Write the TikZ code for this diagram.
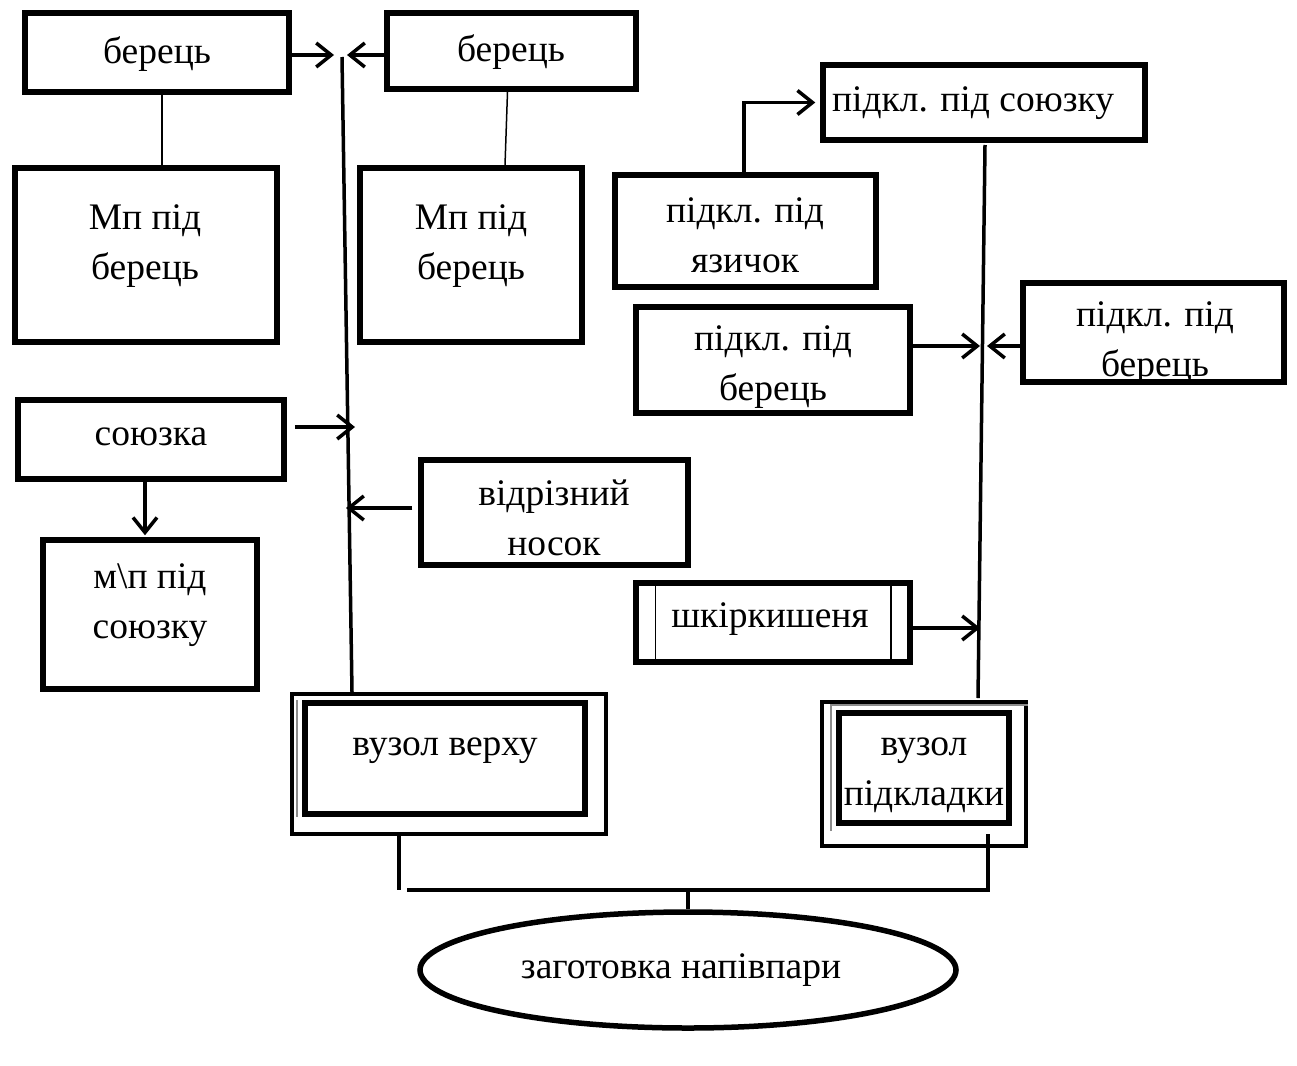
\documentclass[tikz,border=0pt]{standalone}
\usepackage{fontspec}
\setmainfont{Liberation Serif}
\usetikzlibrary{arrows.meta,shapes.geometric}
\begin{document}
\begin{tikzpicture}[x=1pt,y=-1pt,
  box/.style={draw, line width=5.5pt, inner sep=0pt},
  txt/.style={align=center, font=\fontsize{37.5}{50}\selectfont, inner sep=0pt},
  conn/.style={line width=3.5pt},
  arr/.style={line width=3.5pt, -{Straight Barb[length=15pt,width=24pt]}},
  thinline/.style={line width=1.5pt},
  shadow/.style={line width=1.2pt, black!45}]
\useasboundingbox[fill=white] (0,0) rectangle (1297,1065);

% boxes
\node[box, minimum width=264, minimum height=79] (b1) at (157,52.5) {};
\node[box, minimum width=249, minimum height=76] (b2) at (511.5,51) {};
\node[box, minimum width=262, minimum height=174] (m1) at (146,255) {};
\node[box, minimum width=222, minimum height=174] (m2) at (471,255) {};
\node[box, minimum width=266, minimum height=79] (s) at (151,439.5) {};
\node[box, minimum width=214, minimum height=149] (ms) at (150,614.5) {};
\node[box, minimum width=267, minimum height=105] (vn) at (554.5,512.5) {};
\node[box, line width=4.5pt, minimum width=314, minimum height=140] (vvo) at (449,764) {};
\node[box, line width=6pt, minimum width=280, minimum height=111] (vvi) at (445,758.5) {};
\draw[shadow] ([xshift=-5pt]vvi.north west) -- ([xshift=-5pt]vvi.south west);
\node[box, line width=4.5pt, minimum width=204, minimum height=144] (vpo) at (924,774) {};
\node[box, line width=6pt, minimum width=170, minimum height=110] (vpi) at (924,768) {};
\draw[shadow] ([xshift=-5pt,yshift=-5pt]vpi.south west) -- ([xshift=-5pt,yshift=5pt]vpi.north west) -- ([yshift=5pt]vpo.north east |- vpi.north);
\node[box, minimum width=322, minimum height=75] (ps) at (984,102.5) {};
\node[box, minimum width=261, minimum height=112] (pya) at (745.5,231) {};
\node[box, minimum width=274, minimum height=106] (pb1) at (773,360) {};
\node[box, minimum width=261, minimum height=99] (pb2) at (1153.5,332.5) {};
\node[box, minimum width=274, minimum height=79] (sk) at (773,622.5) {};
\draw[thinline] ([xshift=22pt]sk.north west) -- ([xshift=22pt]sk.south west);
\draw[thinline] ([xshift=-22pt]sk.north east) -- ([xshift=-22pt]sk.south east);
\node[draw, ellipse, line width=5.5pt, minimum width=536, minimum height=116, inner sep=0pt] (ell) at (688,970) {};

% texts
\node[txt] (tb1) at (157,54) {берець};
\node[txt] (tb2) at (511,52) {берець};
\node[txt] (tm1) at (145,246) {Мп під\\берець};
\node[txt] (tm2) at (471,246) {Мп під\\берець};
\node[txt] (ts) at (151,437) {союзка};
\node[txt] (tms) at (150,605) {м\textbackslash п під\\союзку};
\node[txt] (tvn) at (554,518) {відрізний\\носок};
\node[txt] (tvv) at (445,751) {вузол верху};
\node[txt] (tvp) at (924,775) {вузол\\підкладки};
\node[txt] (tps) at (973,103) {підкл. під союзку};
\node[txt] (tpya) at (745,235) {підкл. під\\язичок};
\node[txt] (tpb1) at (773,367) {підкл. під\\берець};
\begin{scope}
\clip (pb2.south west) rectangle (pb2.north east);
\node[txt] (tpb2) at (1155,343) {підкл. під\\берець};
\end{scope}
\node[txt] (tsk) at (770,619) {шкіркишеня};
\node[txt] (tell) at (681,970) {заготовка напівпари};

% spines
\coordinate (spL1) at (342,57);
\coordinate (spL2) at (352,692);
\draw[conn] (spL1) -- (spL2);
\coordinate (spR1) at (985,145);
\coordinate (spR2) at (978,698);
\draw[conn] (spR1) -- (spR2);

% left arrows
\coordinate (tipA) at (334,55);
\coordinate (tipB) at (347,55);
\draw[arr] ([yshift=-2.5pt]b1.east) -- (tipA);
\draw[arr] ([yshift=-4pt]b2.west) -- (tipB);
\draw[thinline] ([xshift=5pt]b1.south) -- ([xshift=5pt]b1.south |- m1.north);
\draw[thinline] ([xshift=-4pt]b2.south) -- ([xshift=34pt]m2.north);
\coordinate (tipC) at (355,427);
\draw[arr] ([xshift=8pt,yshift=12.5pt]s.east) -- (tipC);
\draw[arr] ([xshift=-6pt]s.south) -- ([xshift=-5pt,yshift=2pt]ms.north);
\coordinate (tipD) at (346,508);
\draw[arr] ([xshift=-6pt,yshift=4.5pt]vn.west) -- (tipD);

% right arrows
\draw[arr] ([xshift=-1.5pt]pya.north) |- ([xshift=-5pt]ps.west);
\coordinate (tipE) at (980,346);
\coordinate (tipF) at (987,346);
\draw[arr] ([yshift=14pt]pb1.east) -- (tipE);
\draw[arr] ([yshift=-13.5pt]pb2.west) -- (tipF);
\coordinate (tipG) at (980,628);
\draw[arr] ([yshift=-5.5pt]sk.east) -- (tipG);

% bottom joins
\coordinate (hL) at (407,890);
\coordinate (hR) at (988,890);
\coordinate (junc) at (688,890);
\draw[conn] ([xshift=-50pt,yshift=2pt]vvo.south) -- ([xshift=-50pt]vvo.south |- hR);
\draw[conn] ([xshift=64pt,yshift=14pt]vpo.south) -- ([xshift=64pt,yshift=-1.75pt]vpo.south |- hR);
\draw[conn] (hL) -- (hR);
\draw[conn] (junc) -- (ell.north);
\end{tikzpicture}
\end{document}
